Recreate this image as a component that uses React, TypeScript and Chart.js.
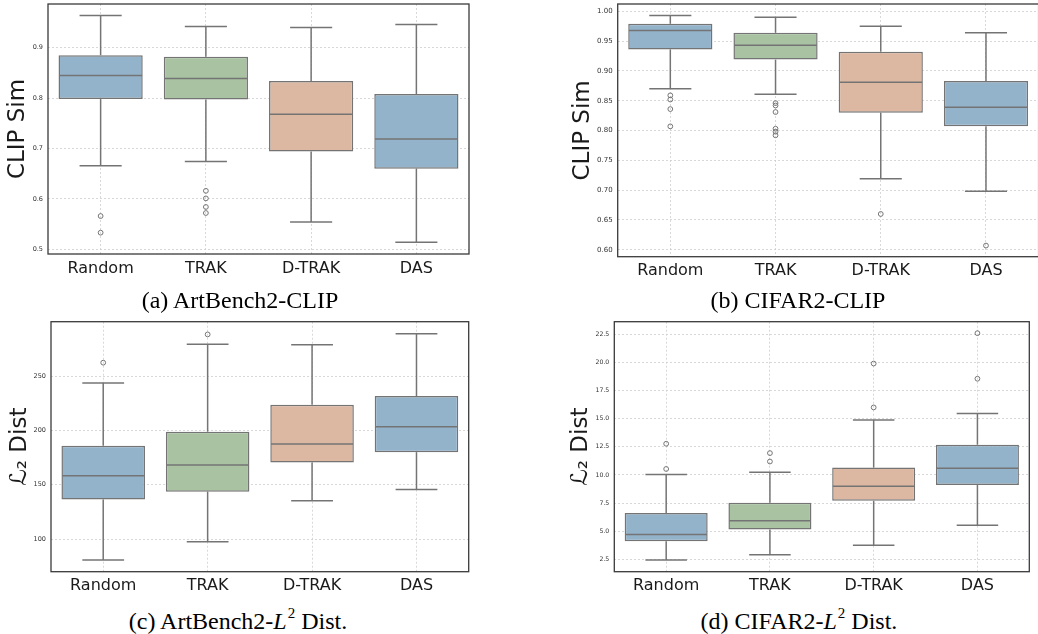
import React, { useEffect, useRef } from 'react';
import { Chart, registerables } from 'chart.js';

Chart.register(...registerables);

const categories = ['Random', 'TRAK', 'D-TRAK', 'DAS'];
const boxColors = ['#93b3ca', '#a8c2a2', '#dcb8a3', '#93b3ca'];

// (a) ArtBench2-CLIP
const artClipLow = [0.666, 0.674, 0.554, 0.514];
const artClipQ1 = [0.798, 0.797, 0.694, 0.66];
const artClipMed = [0.845, 0.839, 0.768, 0.719];
const artClipQ3 = [0.885, 0.882, 0.834, 0.808];
const artClipHigh = [0.964, 0.942, 0.94, 0.946];
const artClipOut = [[0.566, 0.533], [0.616, 0.601, 0.584, 0.572], [], []];
const artClipTicks = [0.5, 0.6, 0.7, 0.8, 0.9];

// (b) CIFAR2-CLIP
const cifClipLow = [0.87, 0.861, 0.719, 0.698];
const cifClipQ1 = [0.936, 0.919, 0.83, 0.807];
const cifClipMed = [0.968, 0.943, 0.881, 0.839];
const cifClipQ3 = [0.979, 0.964, 0.932, 0.883];
const cifClipHigh = [0.993, 0.99, 0.975, 0.964];
const cifClipOut = [[0.859, 0.852, 0.836, 0.807], [0.846, 0.842, 0.831, 0.803, 0.798, 0.792], [0.66], [0.607]];
const cifClipTicks = [0.6, 0.65, 0.7, 0.75, 0.8, 0.85, 0.9, 0.95, 1.0];

// (c) ArtBench2-L2 Dist
const artL2Low = [80.7, 97.5, 135.3, 145.7];
const artL2Q1 = [136.5, 143.6, 170.5, 180.0];
const artL2Med = [158.3, 168.1, 187.4, 203.4];
const artL2Q3 = [185.9, 198.8, 223.6, 231.6];
const artL2High = [243.6, 279.2, 278.9, 289.0];
const artL2Out = [[262.3], [288.3], [], []];
const artL2Ticks = [100, 150, 200, 250];

// (d) CIFAR2-L2 Dist
const cifL2Low = [2.44, 2.91, 3.75, 5.53];
const cifL2Q1 = [4.11, 5.14, 7.7, 9.1];
const cifL2Med = [4.7, 5.92, 9.0, 10.6];
const cifL2Q3 = [6.61, 7.53, 10.65, 12.68];
const cifL2High = [10.03, 10.24, 14.88, 15.47];
const cifL2Out = [[12.77, 10.53], [11.94, 11.19], [16.0, 19.9], [18.55, 22.6]];
const cifL2Ticks = [2.5, 5.0, 7.5, 10.0, 12.5, 15.0, 17.5, 20.0, 22.5];

const LINE = '#747474';
const GRID = '#cfcfcf';
const FRAME = '#3a3a3a';

type PanelSpec = {
  left: number; top: number; width: number; height: number;
  padTop: number; padRight: number;
  yAxisWidth: number; xAxisHeight: number;
  yTitle: string; titlePad: number;
  low: number[]; q1: number[]; med: number[]; q3: number[]; high: number[]; out: number[][];
  yMin: number; yMax: number; ticks: number[]; decimals: number; tickSize: number;
};

const panels: PanelSpec[] = [
  {
    left: 0, top: 0, width: 480, height: 282, padTop: 4, padRight: 11,
    yAxisWidth: 48, xAxisHeight: 28, yTitle: 'CLIP Sim', titlePad: 4.4,
    low: artClipLow, q1: artClipQ1, med: artClipMed, q3: artClipQ3, high: artClipHigh, out: artClipOut,
    yMin: 0.4907, yMax: 0.9866, ticks: artClipTicks, decimals: 1, tickSize: 6.5,
  },
  {
    left: 530, top: 0, width: 520, height: 282, padTop: 4, padRight: 11.4,
    yAxisWidth: 87.7, xAxisHeight: 25.3, yTitle: 'CLIP Sim', titlePad: 39.5,
    low: cifClipLow, q1: cifClipQ1, med: cifClipMed, q3: cifClipQ3, high: cifClipHigh, out: cifClipOut,
    yMin: 0.5883, yMax: 1.0123, ticks: cifClipTicks, decimals: 2, tickSize: 7,
  },
  {
    left: 0, top: 310, width: 480, height: 290, padTop: 11.7, padRight: 11.3,
    yAxisWidth: 51, xAxisHeight: 28.3, yTitle: 'ℒ₂ Dist', titlePad: 6.6,
    low: artL2Low, q1: artL2Q1, med: artL2Med, q3: artL2Q3, high: artL2High, out: artL2Out,
    yMin: 70, yMax: 300, ticks: artL2Ticks, decimals: 0, tickSize: 6.5,
  },
  {
    left: 530, top: 310, width: 510, height: 290, padTop: 11.7, padRight: 10.7,
    yAxisWidth: 84.3, xAxisHeight: 28.3, yTitle: 'ℒ₂ Dist', titlePad: 37.6,
    low: cifL2Low, q1: cifL2Q1, med: cifL2Med, q3: cifL2Q3, high: cifL2High, out: cifL2Out,
    yMin: 1.397, yMax: 23.62, ticks: cifL2Ticks, decimals: 1, tickSize: 6.2,
  },
];

function BoxPanel({ spec }: { spec: PanelSpec }) {
  const ref = useRef<HTMLCanvasElement>(null);
  useEffect(() => {
    const s = spec;
    const boxPlugin = {
      id: 'boxExtras',
      afterDatasetsDraw(chart: any) {
        const { ctx } = chart;
        const xs = chart.scales.x;
        const ys = chart.scales.y;
        const meta = chart.getDatasetMeta(0);
        ctx.save();
        ctx.strokeStyle = LINE;
        ctx.lineWidth = 1.5;
        const line = (x1: number, y1: number, x2: number, y2: number) => {
          ctx.beginPath();
          ctx.moveTo(x1, y1);
          ctx.lineTo(x2, y2);
          ctx.stroke();
        };
        categories.forEach((_, i) => {
          const cx = xs.getPixelForValue(i);
          const bw = meta.data[i].width;
          const half = bw / 2;
          const cap = bw / 4;
          const pLow = ys.getPixelForValue(s.low[i]);
          const pQ1 = ys.getPixelForValue(s.q1[i]);
          const pMed = ys.getPixelForValue(s.med[i]);
          const pQ3 = ys.getPixelForValue(s.q3[i]);
          const pHigh = ys.getPixelForValue(s.high[i]);
          line(cx, pQ3, cx, pHigh);
          line(cx, pQ1, cx, pLow);
          line(cx - cap, pHigh, cx + cap, pHigh);
          line(cx - cap, pLow, cx + cap, pLow);
          line(cx - half + 0.75, pMed, cx + half - 0.75, pMed);
          ctx.lineWidth = 1;
          s.out[i].forEach((v) => {
            ctx.beginPath();
            ctx.arc(cx, ys.getPixelForValue(v), 2.4, 0, Math.PI * 2);
            ctx.stroke();
          });
          ctx.lineWidth = 1.5;
        });
        ctx.restore();
      },
      afterDraw(chart: any) {
        const { ctx, chartArea: a } = chart;
        ctx.save();
        ctx.strokeStyle = FRAME;
        ctx.lineWidth = 1.3;
        ctx.strokeRect(a.left, a.top, a.right - a.left, a.bottom - a.top);
        ctx.restore();
      },
    };
    const chart = new Chart(ref.current as HTMLCanvasElement, {
      type: 'bar',
      data: {
        labels: categories,
        datasets: [
          {
            data: s.q1.map((v, i) => [v, s.q3[i]]) as any,
            backgroundColor: boxColors,
            borderColor: LINE,
            borderWidth: 1.5,
            borderSkipped: false,
            barPercentage: 0.8,
            categoryPercentage: 1,
          },
        ],
      },
      options: {
        responsive: false,
        maintainAspectRatio: false,
        animation: false,
        layout: { padding: { top: s.padTop, right: s.padRight, left: 0, bottom: 0 } },
        plugins: {
          legend: { display: false },
          tooltip: { enabled: false },
          title: { display: false },
        },
        scales: {
          x: {
            type: 'category',
            offset: true,
            grid: { offset: false, color: GRID, lineWidth: 0.8, drawTicks: false },
            border: { display: false, dash: [2, 2] },
            ticks: { color: '#1a1a1a', font: { family: 'DejaVu Sans', size: 16 }, padding: 5 },
            afterFit(scale: any) {
              scale.height = s.xAxisHeight;
              scale.paddingLeft = 0;
              scale.paddingRight = 0;
            },
          },
          y: {
            min: s.yMin,
            max: s.yMax,
            grid: { color: GRID, lineWidth: 0.8, drawTicks: false },
            border: { display: false, dash: [2, 2] },
            ticks: {
              color: '#333333',
              font: { family: 'DejaVu Sans', size: s.tickSize },
              padding: 5,
              callback: (v: any) => Number(v).toFixed(s.decimals),
            },
            afterBuildTicks(scale: any) {
              scale.ticks = s.ticks.map((v) => ({ value: v }));
            },
            afterFit(scale: any) {
              scale.width = s.yAxisWidth;
              scale.paddingTop = 0;
              scale.paddingBottom = 0;
            },
            title: {
              display: true,
              text: s.yTitle,
              color: '#1a1a1a',
              font: { family: 'DejaVu Sans', size: 23 },
              padding: { top: s.titlePad, bottom: 0 },
            },
          },
        },
      } as any,
      plugins: [boxPlugin],
    });
    return () => chart.destroy();
  }, [spec]);
  return (
    <canvas
      ref={ref}
      width={spec.width}
      height={spec.height}
      style={{ position: 'absolute', left: spec.left, top: spec.top, width: spec.width, height: spec.height }}
    />
  );
}

const captionStyle: React.CSSProperties = {
  position: 'absolute',
  width: 440,
  textAlign: 'center',
  fontFamily: '"Liberation Serif", "Times New Roman", serif',
  fontSize: 24,
  lineHeight: '28px',
  color: '#000',
  whiteSpace: 'nowrap',
};

const supStyle: React.CSSProperties = { fontSize: 15, lineHeight: 0, verticalAlign: '0.75em', marginLeft: 1 };

export default function App() {
  return (
    <div style={{ position: 'absolute', left: 0, top: 0, width: 1038, height: 634, overflow: 'hidden', background: '#fff' }}>
      {panels.map((p, i) => (
        <BoxPanel key={i} spec={p} />
      ))}
      <div style={{ ...captionStyle, left: 240 - 220, top: 286 }}>(a) ArtBench2-CLIP</div>
      <div style={{ ...captionStyle, left: 798 - 220, top: 286 }}>(b) CIFAR2-CLIP</div>
      <div style={{ ...captionStyle, left: 238 - 220, top: 607 }}>
        (c) ArtBench2-<i>L</i><sup style={supStyle}>2</sup> Dist.
      </div>
      <div style={{ ...captionStyle, left: 799 - 220, top: 607 }}>
        (d) CIFAR2-<i>L</i><sup style={supStyle}>2</sup> Dist.
      </div>
    </div>
  );
}
